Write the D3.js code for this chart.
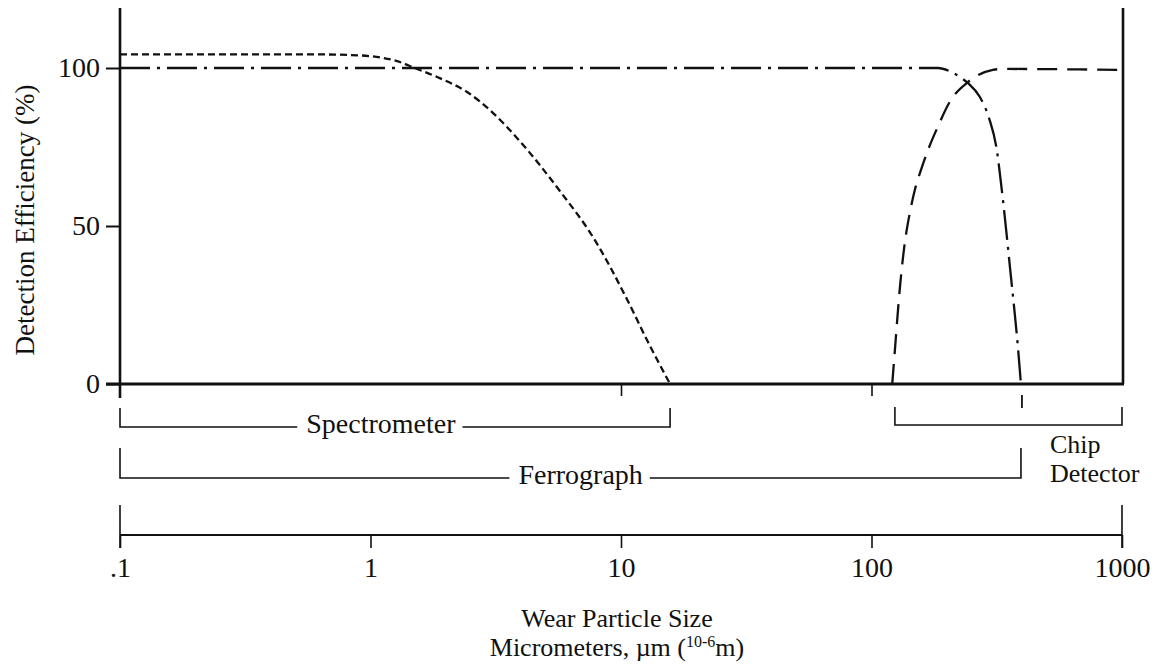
<!DOCTYPE html>
<html>
<head>
<meta charset="utf-8">
<script src="https://cdn.jsdelivr.net/npm/d3@7"></script>
<style>
  body { margin: 0; background: #fff; }
  svg { display: block; }
  text { font-family: "Liberation Serif", "Times New Roman", serif; fill: #111; }
</style>
</head>
<body>
<svg id="chart" width="1154" height="669"></svg>
<script>
// particle size (micrometers) vs detection efficiency (%)
const sizeTicks = [0.1, 1, 10, 100, 1000]
const sizeTickLabels = [".1", "1", "10", "100", "1000"]
const effTicks = [0, 50, 100]

const spectroSize = [0.1, 0.6, 0.9, 1.1, 1.31, 1.48, 1.89, 2.43, 3.08, 3.85, 5.71, 7.73, 10.6, 12.7, 15.7]
const spectroEff = [104.3, 104.3, 104, 103.3, 101.9, 100.2, 96.8, 92.4, 85.8, 77.8, 61, 46.5, 26.6, 13.9, 0]

const ferroSize = [0.1, 184, 205, 225, 243, 270, 295, 315, 335, 357, 385, 395]
const ferroEff = [100, 100, 99, 97.2, 95.2, 91, 84, 75, 58, 37, 10.8, 0]

const chipSize = [121, 124, 130, 136, 142.5, 149, 158, 168, 183, 206, 243, 305, 335, 1000]
const chipEff = [0, 10.8, 31, 45, 54.5, 61.5, 68, 74, 81, 89.5, 95.6, 99.4, 99.7, 99.4]

// instrument ranges shown as brackets under the plot
const bracketNames = ["Spectrometer", "Ferrograph", "Chip Detector"]
const bracketFrom = [0.1, 0.1, 124]
const bracketTo = [15.7, 395, 1000]
const bracketLabelAt = [1.1, 6.9, 516]

const svg = d3.select('#chart')

const x = d3.scaleLog()
.domain([0.1, 1000])
.range([120, 1122])

const y = d3.scaleLinear()
.domain([0, 100])
.range([384, 68])

const zeroY = y(0)

function drawCurve(sizes, effs, dash) {
  const pts = sizes.map((s, i) => [s, effs[i]])
  const line = d3.line()
  .x(d => x(d[0]))
  .y(d => y(d[1]))
  .curve(d3.curveMonotoneX)
  svg.append('path')
  .attr('d', line(pts))
  .attr('fill', 'none')
  .attr('stroke', '#111')
  .attr('stroke-width', 2.3)
  .attr('stroke-dasharray', dash)
}

drawCurve(spectroSize, spectroEff, '7,4')
drawCurve(ferroSize, ferroEff, '30,7,3,7')
drawCurve(chipSize, chipEff, '20,10')

// y axis
const yAxis = svg.append('g')
.attr('transform', `translate(${x(0.1)},0)`)
.call(d3.axisLeft(y).tickValues(effTicks).tickSize(14).tickPadding(6).tickFormat(d3.format('d')))
yAxis.select('.domain').remove()
yAxis.selectAll('line').attr('stroke', '#111').attr('stroke-width', 2)
yAxis.selectAll('text')
.style('font-size', '28px')
.style('font-family', '"Liberation Serif", serif')

svg.append('line')
.attr('x1', x(0.1)).attr('x2', x(0.1))
.attr('y1', 8).attr('y2', 398)
.attr('stroke', '#111').attr('stroke-width', 2.6)

// right border
svg.append('line')
.attr('x1', 1123).attr('x2', 1123)
.attr('y1', 8).attr('y2', zeroY)
.attr('stroke', '#111').attr('stroke-width', 2.6)

// zero line with small ticks
svg.append('line')
.attr('x1', 106).attr('x2', 1124)
.attr('y1', zeroY).attr('y2', zeroY)
.attr('stroke', '#111').attr('stroke-width', 3)

const zeroTicks = svg.append('g')
.attr('transform', `translate(0,${zeroY})`)
.call(d3.axisBottom(x).tickValues([10, 100]).tickSize(12).tickFormat(''))
zeroTicks.select('.domain').remove()
zeroTicks.selectAll('line').attr('stroke', '#111').attr('stroke-width', 1.6)

// short mark under the ferrograph cut-off
svg.append('line')
.attr('x1', x(bracketTo[1]) + 1).attr('x2', x(bracketTo[1]) + 1)
.attr('y1', 395).attr('y2', 408)
.attr('stroke', '#111').attr('stroke-width', 1.8)

// y title
svg.append('text')
.attr('transform', `translate(34,220) rotate(-90)`)
.attr('text-anchor', 'middle')
.style('font-size', '27px')
.text('Detection Efficiency (%)')

// brackets
const rowTop = [408, 448, 407]
const rowLine = [427, 478, 425]

bracketNames.forEach((name, i) => {
  const x0 = x(bracketFrom[i])
  const x1 = x(bracketTo[i])
  const g = svg.append('g').attr('class', 'bracket')
  if (i < 2) {
    const label = g.append('text')
    .attr('x', x(bracketLabelAt[i]))
    .attr('y', rowLine[i] + 6)
    .attr('text-anchor', 'middle')
    .style('font-size', '28px')
    .text(name)
    const w = label.node().getComputedTextLength()
    const cx = x(bracketLabelAt[i])
    g.append('path')
    .attr('d', `M${x0},${rowTop[i]}V${rowLine[i]}H${cx - w / 2 - 9}`)
    .attr('fill', 'none').attr('stroke', '#111').attr('stroke-width', 1.6)
    g.append('path')
    .attr('d', `M${cx + w / 2 + 7},${rowLine[i]}H${x1}V${rowTop[i]}`)
    .attr('fill', 'none').attr('stroke', '#111').attr('stroke-width', 1.6)
  } else {
    g.append('path')
    .attr('d', `M${x0},${rowTop[i]}V${rowLine[i]}H${x1}V${rowTop[i]}`)
    .attr('fill', 'none').attr('stroke', '#111').attr('stroke-width', 1.6)
    const words = name.split(' ')
    words.forEach((wd, k) => {
      g.append('text')
      .attr('x', x(bracketLabelAt[i]))
      .attr('y', 453 + k * 29)
      .style('font-size', '26px')
      .text(wd)
    })
  }
})

// bottom size axis
const axisY = 535
const xAxis = svg.append('g')
.attr('transform', `translate(0,${axisY})`)
.call(d3.axisBottom(x).tickValues(sizeTicks).tickSize(13).tickPadding(9)
  .tickFormat((d, i) => sizeTickLabels[i]))
xAxis.select('.domain')
.attr('d', `M${x(0.1)},0H${x(1000)}`)
.attr('stroke', '#111').attr('stroke-width', 2)
xAxis.selectAll('line').attr('stroke', '#111').attr('stroke-width', 1.6)
xAxis.selectAll('text')
.style('font-size', '28px')
.style('font-family', '"Liberation Serif", serif')

// taller end ticks
svg.selectAll('.endTick')
.data([0.1, 1000])
.enter()
.append('line')
.attr('x1', d => x(d)).attr('x2', d => x(d))
.attr('y1', 505).attr('y2', axisY + 13)
.attr('stroke', '#111').attr('stroke-width', 1.6)

// x title
svg.append('text')
.attr('x', 617).attr('y', 627)
.attr('text-anchor', 'middle')
.style('font-size', '26px')
.text('Wear Particle Size')

const sub = svg.append('text')
.attr('x', 617).attr('y', 656)
.attr('text-anchor', 'middle')
.style('font-size', '26px')
sub.append('tspan').text('Micrometers, µm (')
sub.append('tspan').attr('dy', -9).style('font-size', '16px').text('10-6')
sub.append('tspan').attr('dy', 9).text('m)')
</script>
</body>
</html>
